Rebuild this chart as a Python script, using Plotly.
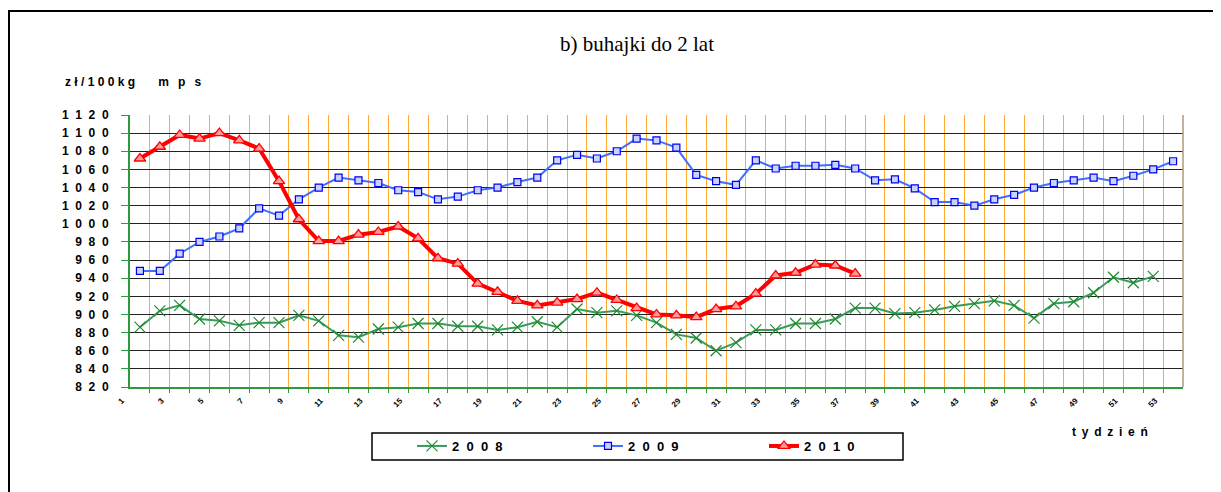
import plotly.graph_objects as go

weeks = list(range(1, 54))

y2008 = [886, 904, 910, 895, 893, 888, 891, 891, 899, 893, 877, 875, 884, 886,
         890, 890, 887, 887, 883, 886, 892, 886, 906, 902, 904, 899, 891, 878,
         874, 860, 869, 883, 883, 890, 890, 895, 907, 907, 901, 902, 905, 909,
         912, 915, 910, 896, 912, 914, 924, 941, 935, 942]
y2009 = [948, 948, 967, 980, 986, 995, 1017, 1009, 1027, 1040, 1051, 1048, 1045,
         1037, 1035, 1027, 1030, 1037, 1040, 1046, 1051, 1070, 1076, 1072, 1080,
         1094, 1092, 1084, 1054, 1047, 1043, 1070, 1061, 1064, 1064, 1065, 1061,
         1048, 1049, 1039, 1024, 1024, 1020, 1027, 1032, 1040, 1045, 1048, 1051,
         1047, 1053, 1060, 1069]
y2010 = [1072, 1085, 1098, 1094, 1100, 1092, 1083, 1047, 1005, 981, 981, 988,
         991, 997, 984, 962, 956, 934, 925, 915, 910, 913, 917, 924, 916, 907,
         900, 899, 897, 906, 909, 923, 943, 946, 955, 954, 945]

series_names = ["2008", "2009", "2010"]
y_ticks = list(range(820, 1121, 20))
x_ticks = list(range(1, 54, 2))

title_text = "b) buhajki do 2 lat"
y_title = "zł/100kg mps"
x_title = "tydzień"

NB = "\u00a0"
TH = "\u2009"


def spaced(s, sep=NB + NB):
    return sep.join(s)


# page body has an 8px margin: figure is drawn at screen offset (8, 8)
OFF = 8
W, H = 1221 - OFF, 492 - OFF
L, T = 130 - OFF, 115 - OFF
R = W - (1183 - OFF)
B = H - (387 - OFF)
PW, PH = W - L - R, H - T - B


def px2x(sx):
    return (sx - OFF - L) / PW


def py2y(sy):
    return (H - B - (sy - OFF)) / PH


fig = go.Figure()

fig.add_trace(go.Scatter(
    x=weeks[:len(y2008)], y=y2008, name=spaced(series_names[0]), mode="lines+markers",
    line=dict(color="#3a9a5c", width=2),
    marker=dict(symbol="x-thin", size=11, line=dict(color="#1f8a2e", width=1.2), color="#1f8a2e"),
))
fig.add_trace(go.Scatter(
    x=weeks[:len(y2009)], y=y2009, name=spaced(series_names[1]), mode="lines+markers",
    line=dict(color="#3f6fff", width=2),
    marker=dict(symbol="square", size=7, color="#c8d2ff", line=dict(color="#0000ee", width=1.2)),
))
fig.add_trace(go.Scatter(
    x=weeks[:len(y2010)], y=y2010, name=spaced(series_names[2]), mode="lines+markers",
    line=dict(color="#ff0000", width=4),
    marker=dict(symbol="triangle-up", size=10, color="#ff9a9a", line=dict(color="#ff0000", width=1.3)),
))

fig.update_layout(
    width=W, height=H,
    margin=dict(l=L, r=R, t=T, b=B, autoexpand=False),
    paper_bgcolor="white", plot_bgcolor="white",
    font=dict(family="Liberation Sans, Arial", color="black"),
    showlegend=True,
    legend=dict(
        orientation="h", x=px2x(412), xanchor="left", y=py2y(446), yanchor="middle",
        font=dict(size=13, family="Liberation Sans, Arial", color="black", weight="bold"),
        entrywidth=131, entrywidthmode="pixels", bgcolor="rgba(0,0,0,0)",
        borderwidth=0, traceorder="normal",
    ),
    xaxis=dict(
        range=[0.5, 53.5], tickmode="array", tickvals=x_ticks,
        ticktext=[str(v) for v in x_ticks], tickangle=-45,
        tickfont=dict(size=8, family="Liberation Sans, Arial", weight="bold"),
        ticks="", showgrid=False, zeroline=False,
        showline=True, linecolor="#2e9a3e", linewidth=2,
        ticklabelshift=-18, ticklabelstandoff=4,
        minor=dict(tickvals=[k + 0.5 for k in range(1, 53)], showgrid=True,
                   gridcolor="#ffaa33", gridwidth=1, ticks="outside", ticklen=4,
                   tickcolor="#2e9a3e", tickwidth=1),
    ),
    yaxis=dict(
        range=[820, 1120], tickmode="array", tickvals=y_ticks,
        ticktext=[spaced(str(v)) for v in y_ticks],
        tickfont=dict(size=12, family="Liberation Sans, Arial", weight="bold"),
        ticks="outside", ticklen=7, tickcolor="#2e9a3e", tickwidth=1,
        showgrid=True, gridcolor="#222222", gridwidth=1, zeroline=False,
        showline=True, linecolor="#2e9a3e", linewidth=2,
        ticklabelstandoff=10,
    ),
    shapes=[
        dict(type="rect", xref="paper", yref="paper",
             x0=px2x(9), x1=px2x(1240), y0=py2y(510), y1=py2y(11),
             line=dict(color="black", width=2), fillcolor="rgba(0,0,0,0)", layer="below"),
        dict(type="line", xref="paper", yref="paper", x0=1, x1=1, y0=0, y1=1,
             line=dict(color="#b09a78", width=1.5)),
        dict(type="rect", xref="paper", yref="paper",
             x0=px2x(372), x1=px2x(903), y0=py2y(460), y1=py2y(433),
             line=dict(color="black", width=1.5), fillcolor="rgba(0,0,0,0)"),
    ],
    annotations=[
        dict(text=title_text, xref="paper", yref="paper", x=px2x(637), y=py2y(44),
             xanchor="center", yanchor="middle", showarrow=False,
             font=dict(family="Liberation Serif, Times New Roman", size=21, color="black")),
        dict(text=spaced("zł/100kg", NB) + NB * 7 + spaced("mps", NB + NB + TH),
             xref="paper", yref="paper", x=px2x(63), y=py2y(82),
             xanchor="left", yanchor="middle", showarrow=False,
             font=dict(size=12, weight="bold", color="black")),
        dict(text=spaced(x_title, NB + TH), xref="paper", yref="paper", x=px2x(1070), y=py2y(432),
             xanchor="left", yanchor="middle", showarrow=False,
             font=dict(size=12, weight="bold", color="black")),
    ],
)

fig.write_html("out.html")
